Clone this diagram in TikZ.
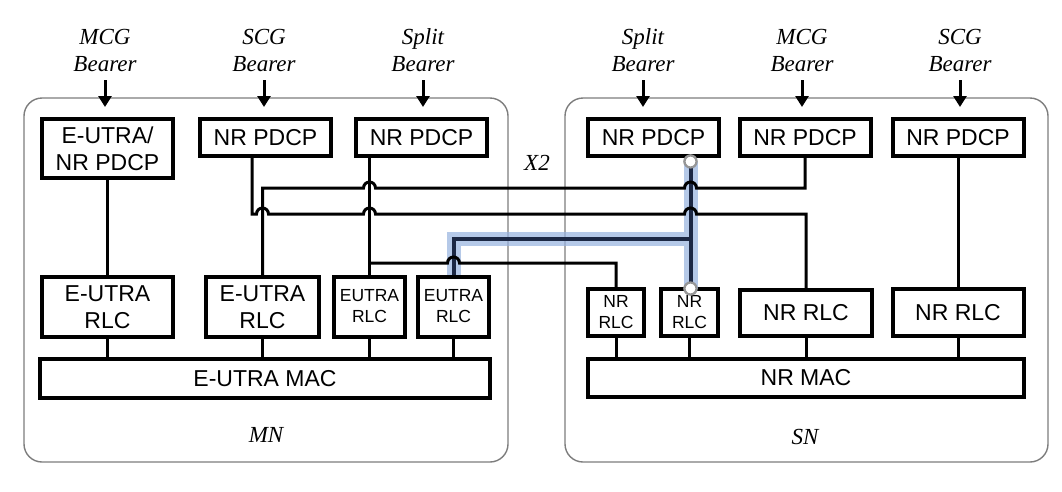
\documentclass[tikz,border=0pt]{standalone}
\usepackage{fontspec}
\setmainfont{Liberation Serif}
\setsansfont{Liberation Sans}
\usepackage{tikz}
\usetikzlibrary{arrows.meta,positioning,calc}
\definecolor{contgray}{RGB}{125,125,125}
\definecolor{portgray}{RGB}{150,150,150}
\definecolor{hlblue}{RGB}{150,178,222}
\definecolor{navyline}{RGB}{28,40,68}

\begin{document}
\begin{tikzpicture}[x=1pt, y=-1pt, >={Triangle[length=11pt,width=13pt]},
    cont/.style={draw=contgray, line width=1.4pt, rounded corners=18pt},
    box/.style={draw, line width=4pt, align=center, inner sep=0pt,
                font=\sffamily\fontsize{23}{27}\selectfont},
    smallbox/.style={box, font=\sffamily\fontsize{17.5}{21}\selectfont},
    pdcp/.style={box, minimum width=131pt, minimum height=37pt},
    lbl/.style={font=\itshape\fontsize{23}{27}\selectfont, align=center, inner sep=0pt},
    bearer/.style={->, line width=3pt, shorten <=8pt, shorten >=10pt},
    wire/.style={line width=3pt},
    hl/.style={draw=hlblue, opacity=0.7, line width=14pt, line join=miter},
    blueline/.style={draw=navyline, line width=4pt},
    port/.style={circle, draw=portgray, fill=white, line width=2.2pt,
                 minimum size=12pt, inner sep=0pt}]
    \useasboundingbox (0,0) rectangle (1062,491);
    % --- the two nodes ---
    \draw[cont] (24,98) rectangle (508,462);
    \draw[cont] (565,98) rectangle (1048,462);
    \node[lbl] (mnlbl) at (266,435) {MN};
    \node[lbl] (snlbl) at (805,437) {SN};
    \node[lbl] (xtwo) at (537,163) {X2};
    % --- MN stack ---
    \node[box, minimum width=131pt, minimum height=59pt] (mnpdcpa) at (107.5,148.5) {E-UTRA/\\NR PDCP};
    \node[pdcp] (mnpdcpb) at (265.5,137.5) {NR PDCP};
    \node[pdcp] (mnpdcpc) at (421.5,137.5) {NR PDCP};
    \node[box, minimum width=131pt, minimum height=60pt] (mnrlca) at (107.5,307) {E-UTRA\\RLC};
    \node[box, minimum width=113pt, minimum height=60pt] (mnrlcb) at (262.5,307) {E-UTRA\\RLC};
    \node[smallbox, minimum width=71pt, minimum height=60pt] (mnrlcc) at (369.5,306.5) {EUTRA\\RLC};
    \node[smallbox, minimum width=71pt, minimum height=60pt] (mnrlcd) at (453.5,306.5) {EUTRA\\RLC};
    \node[box, minimum width=450pt, minimum height=39pt] (mnmac) at (265,378.5) {E-UTRA MAC};
    % --- SN stack ---
    \node[pdcp] (snpdcpa) at (653.5,137.5) {NR PDCP};
    \node[pdcp] (snpdcpb) at (805,137.5) {NR PDCP};
    \node[pdcp] (snpdcpc) at (958,137.5) {NR PDCP};
    \node[smallbox, minimum width=56pt, minimum height=47pt] (snrlca) at (616,312.5) {NR\\RLC};
    \node[smallbox, minimum width=57pt, minimum height=47pt] (snrlcb) at (689.5,312.5) {NR\\RLC};
    \node[box, minimum width=132pt, minimum height=46.5pt] (snrlcc) at (806,313) {NR RLC};
    \node[box, minimum width=131pt, minimum height=47pt] (snrlcd) at (958,312.5) {NR RLC};
    \node[box, minimum width=436pt, minimum height=38.5pt] (snmac) at (806,378) {NR MAC};
    % --- bearers ---
    \node[lbl, anchor=south] (lblmnmcg) at (105,72) {MCG\\Bearer};
    \node[lbl, anchor=south] (lblmnscg) at (264,72) {SCG\\Bearer};
    \node[lbl, anchor=south] (lblmnsplit) at (423,72) {Split\\Bearer};
    \node[lbl, anchor=south] (lblsnsplit) at (643,72) {Split\\Bearer};
    \node[lbl, anchor=south] (lblsnmcg) at (802,72) {MCG\\Bearer};
    \node[lbl, anchor=south] (lblsnscg) at (960,72) {SCG\\Bearer};
    \draw[bearer] (lblmnmcg.south) -- (lblmnmcg.south |- mnpdcpa.north);
    \draw[bearer] (lblmnscg.south) -- (lblmnscg.south |- mnpdcpb.north);
    \draw[bearer] (lblmnsplit.south) -- (lblmnsplit.south |- mnpdcpc.north);
    \draw[bearer] (lblsnsplit.south) -- (lblsnsplit.south |- snpdcpa.north);
    \draw[bearer] (lblsnmcg.south) -- (lblsnmcg.south |- snpdcpb.north);
    \draw[bearer] (lblsnscg.south) -- (lblsnscg.south |- snpdcpc.north);
    % --- wire levels ---
    \coordinate (ya) at (0,188);
    \coordinate (yb) at (0,214);
    \coordinate (yc) at (0,239);
    \coordinate (yd) at (0,263);
    \node[port] (pta) at (690.5,161.5) {};
    \node[port] (ptb) at (690.5,288.5) {};
    \coordinate (mnscgout) at ($(mnpdcpb.south west)!0.4!(mnpdcpb.south east)$);
    % --- highlighted split path ---
    \draw[hl] (pta.center) -- (ptb.center)
      (pta |- yc) -- (mnrlcd.north |- yc) -- (mnrlcd.north);
    \draw[blueline] (pta.center) -- (ptb.center)
      (pta |- yc) -- (mnrlcd.north |- yc) -- (mnrlcd.north);
    % --- PDCP to RLC wires ---
    \draw[wire] (mnpdcpa.south) -- (mnrlca.north);
    \draw[wire] (snpdcpc.south) -- (snrlcd.north);
    \draw[wire] (mnpdcpc.south -| mnrlcc.north) -- (mnrlcc.north);
    \draw[wire] (snpdcpb.south) -- (snpdcpb.south |- ya)
      -- ($(pta |- ya)+(6,0)$) arc[start angle=0, end angle=180, radius=6pt]
      -- ($(mnrlcc.north |- ya)+(6,0)$) arc[start angle=0, end angle=180, radius=6pt]
      -- (mnrlcb.north |- ya) -- (mnrlcb.north);
    \draw[wire] (mnscgout) -- (mnscgout |- yb)
      -- ($(mnrlcb.north |- yb)+(-6,0)$) arc[start angle=180, end angle=0, radius=6pt]
      -- ($(mnrlcc.north |- yb)+(-6,0)$) arc[start angle=180, end angle=0, radius=6pt]
      -- ($(pta |- yb)+(-6,0)$) arc[start angle=180, end angle=0, radius=6pt]
      -- (snrlcc.north |- yb) -- (snrlcc.north);
    \draw[wire] (mnrlcc.north |- yd)
      -- ($(mnrlcd.north |- yd)+(-6,0)$) arc[start angle=180, end angle=0, radius=6pt]
      -- (snrlca.north |- yd) -- (snrlca.north);
    % --- RLC to MAC ---
    \foreach \r in {mnrlca,mnrlcb,mnrlcc,mnrlcd}
      \draw[wire] (\r.south) -- (\r.south |- mnmac.north);
    \foreach \r in {snrlca,snrlcb,snrlcc,snrlcd}
      \draw[wire] (\r.south) -- (\r.south |- snmac.north);
    \node[port] at (pta) {};
    \node[port] at (ptb) {};
\end{tikzpicture}
\end{document}
